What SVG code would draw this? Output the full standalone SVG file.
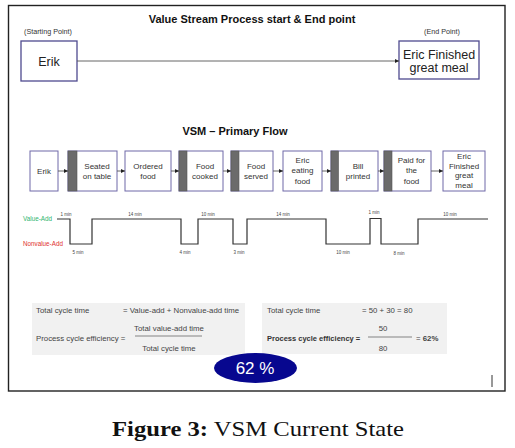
<svg xmlns="http://www.w3.org/2000/svg" width="515" height="448" viewBox="0 0 515 448">
<style>
  text { font-family: "Liberation Sans", Arial, sans-serif; fill: #222; }
  .ttl { font-weight: bold; font-size: 11px; text-anchor: middle; fill: #111; }
  .small { font-size: 7.2px; text-anchor: middle; fill: #333; }
  .big { font-size: 12.5px; text-anchor: middle; fill: #222; }
  .bx { fill: #fff; stroke: #4f4a8f; stroke-width: 1.3; }
  .fb { fill: #fff; stroke: #6f69a8; stroke-width: 1; }
  .bar { fill: #6b6b6b; stroke: #555; stroke-width: 0.6; }
  .ft { font-size: 8px; text-anchor: middle; fill: #333; }
  .conn { stroke: #555; stroke-width: 0.9; fill: none; marker-end: url(#ah); }
  .tl { font-size: 4.5px; text-anchor: middle; fill: #444; }
  .va { font-size: 6.3px; fill: #2db56e; }
  .nva { font-size: 6.3px; fill: #e0302e; }
  .fx { font-size: 7.8px; fill: #444; }
  .fxb { font-size: 7.5px; fill: #333; font-weight: bold; }
  .panel { fill: #f1f1f1; }
  .res { font-size: 17px; text-anchor: middle; fill: #fff; }
  .cap { font-family: "Liberation Serif", "Times New Roman", serif; font-size: 21px; fill: #111; }
</style>
<defs>
  <marker id="ah" viewBox="0 0 6 6" refX="6" refY="3" markerWidth="4" markerHeight="4" orient="auto" markerUnits="userSpaceOnUse">
    <path d="M0,0 L6,3 L0,6 z" fill="#222"/>
  </marker>
</defs>
<rect x="0" y="0" width="515" height="448" fill="#fff"/>
<rect id="frame" x="8.5" y="5.5" width="496.5" height="385.5" fill="none" stroke="#222" stroke-width="1.4"/>

<text class="ttl" x="252" y="23">Value Stream Process start &amp; End point</text>
<text class="small" x="48" y="34">(Starting Point)</text>
<text class="small" x="442" y="34">(End Point)</text>

<g id="start-erik">
  <rect class="bx" x="21" y="41" width="56" height="40"/>
  <text class="big" x="49" y="65.5">Erik</text>
</g>
<g id="end-finished">
  <rect class="bx" x="399" y="41" width="80" height="38"/>
  <text class="big" x="439" y="59">Eric Finished</text>
  <text class="big" x="439" y="72">great meal</text>
</g>

<text class="ttl" x="235" y="135">VSM – Primary Flow</text>

<g id="f-erik">
  <rect class="fb" x="30" y="151" width="28" height="40"/>
  <text class="ft" x="44" y="174">Erik</text>
</g>
<g id="f-seated">
  <rect class="fb" x="68" y="151" width="49" height="40"/>
  <rect class="bar" x="68" y="151" width="9" height="40"/>
  <text class="ft" x="97" y="169">Seated</text>
  <text class="ft" x="97" y="178.5">on table</text>
</g>
<g id="f-ordered">
  <rect class="fb" x="125" y="151" width="46" height="40"/>
  <text class="ft" x="148" y="169">Ordered</text>
  <text class="ft" x="148" y="178.5">food</text>
</g>
<g id="f-cooked">
  <rect class="fb" x="179" y="151" width="44" height="40"/>
  <rect class="bar" x="179" y="151" width="8" height="40"/>
  <text class="ft" x="205" y="169">Food</text>
  <text class="ft" x="205" y="178.5">cooked</text>
</g>
<g id="f-served">
  <rect class="fb" x="231" y="151" width="42" height="40"/>
  <rect class="bar" x="231" y="151" width="8" height="40"/>
  <text class="ft" x="256" y="169">Food</text>
  <text class="ft" x="256" y="178.5">served</text>
</g>
<g id="f-eating">
  <rect class="fb" x="283" y="151" width="39" height="40"/>
  <text class="ft" x="302.5" y="162.5">Eric</text>
  <text class="ft" x="302.5" y="173">eating</text>
  <text class="ft" x="302.5" y="183.5">food</text>
</g>
<g id="f-bill">
  <rect class="fb" x="331" y="151" width="47" height="40"/>
  <rect class="bar" x="331" y="151" width="7.5" height="40"/>
  <text class="ft" x="358" y="168.5">Bill</text>
  <text class="ft" x="358" y="178.5">printed</text>
</g>
<g id="f-paid">
  <rect class="fb" x="384" y="151" width="47" height="40"/>
  <rect class="bar" x="384" y="151" width="8" height="40"/>
  <text class="ft" x="411.5" y="162.5">Paid for</text>
  <text class="ft" x="411.5" y="173">the</text>
  <text class="ft" x="411.5" y="183.5">food</text>
</g>
<g id="f-finished">
  <rect class="fb" x="443" y="151" width="42" height="40"/>
  <text class="ft" x="464" y="158.5">Eric</text>
  <text class="ft" x="464" y="168.5">Finished</text>
  <text class="ft" x="464" y="178">great</text>
  <text class="ft" x="464" y="188">meal</text>
</g>

<g id="connectors">
  <line class="conn" x1="77" y1="61" x2="399" y2="61"/>
  <line class="conn" x1="58" y1="171" x2="68" y2="171"/>
  <line class="conn" x1="117" y1="171" x2="125" y2="171"/>
  <line class="conn" x1="171" y1="171" x2="179" y2="171"/>
  <line class="conn" x1="223" y1="171" x2="231" y2="171"/>
  <line class="conn" x1="273" y1="171" x2="283" y2="171"/>
  <line class="conn" x1="322" y1="171" x2="331" y2="171"/>
  <line class="conn" x1="378" y1="171" x2="384" y2="171"/>
  <line class="conn" x1="431" y1="171" x2="443" y2="171"/>
</g>

<g id="timeline">
  <text class="va" x="23" y="221">Value-Add</text>
  <text class="nva" x="23" y="246">Nonvalue-Add</text>
  <polyline fill="none" stroke="#333" stroke-width="1.2" points="57,219 70,219 70,244 92,244 92,219 181,219 181,244 198,244 198,219 233,219 233,244 247,244 247,219 326,219 326,244 370,244 370,218.5 381,218.5 381,244 418,244 418,219 488,219"/>
  <text class="tl" x="66" y="216">1 min</text>
  <text class="tl" x="135" y="216">14 min</text>
  <text class="tl" x="208" y="216">10 min</text>
  <text class="tl" x="283" y="216">14 min</text>
  <text class="tl" x="374" y="214">1 min</text>
  <text class="tl" x="450" y="216">10 min</text>
  <text class="tl" x="78" y="254">5 min</text>
  <text class="tl" x="185" y="254">4 min</text>
  <text class="tl" x="239" y="254">3 min</text>
  <text class="tl" x="343" y="254">10 min</text>
  <text class="tl" x="399" y="255">8 min</text>
</g>

<g id="formula-left">
  <rect class="panel" x="32" y="303" width="213" height="52"/>
  <text class="fx" x="36" y="313">Total cycle time</text>
  <text class="fx" x="123" y="313">= Value-add + Nonvalue-add time</text>
  <text class="fx" x="36" y="341">Process cycle efficiency =</text>
  <text class="fx" x="169" y="331" text-anchor="middle">Total value-add time</text>
  <line x1="135" y1="336" x2="202" y2="336" stroke="#555" stroke-width="0.7"/>
  <text class="fx" x="169" y="351" text-anchor="middle">Total cycle time</text>
</g>

<g id="formula-right">
  <rect class="panel" x="262" y="303" width="185" height="51"/>
  <text class="fx" x="267" y="313">Total cycle time</text>
  <text class="fx" x="362" y="313">= 50 + 30 = 80</text>
  <text class="fxb" x="267" y="341">Process cycle efficiency =</text>
  <text class="fx" x="383" y="331" text-anchor="middle">50</text>
  <line x1="368" y1="337" x2="412" y2="337" stroke="#555" stroke-width="0.7"/>
  <text class="fx" x="383" y="351" text-anchor="middle">80</text>
  <text class="fx" x="416" y="341">= <tspan font-weight="bold">62%</tspan></text>
</g>

<g id="result">
  <ellipse cx="255.5" cy="368" rx="41.5" ry="15" fill="#07078f"/>
  <text class="res" x="255" y="374">62 %</text>
</g>

<line x1="492" y1="375" x2="492" y2="387" stroke="#333" stroke-width="1"/>

<text class="cap" x="112" y="436" textLength="292" lengthAdjust="spacingAndGlyphs"><tspan font-weight="bold">Figure 3:</tspan> VSM Current State</text>
</svg>
